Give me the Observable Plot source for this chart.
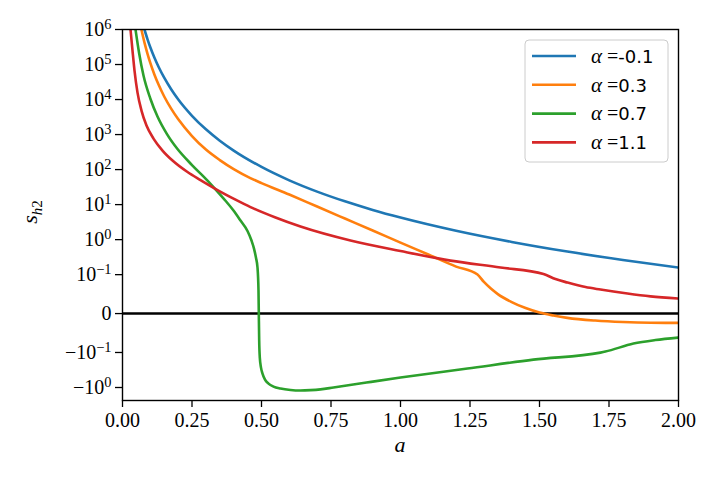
<!DOCTYPE html>
<html><head><meta charset="utf-8">
<script src="https://cdn.jsdelivr.net/npm/d3@7"></script>
<script src="https://cdn.jsdelivr.net/npm/@observablehq/plot@0.6"></script>
<style>
body{margin:0;background:#fff}
#chart{position:relative;width:720px;height:480px}
</style>
</head><body><div id="chart"></div>
<script>
// ---- data ----
const seriesNames  = ["-0.1", "0.3", "0.7", "1.1"];
const seriesColors = ["#1f77b4", "#ff7f0e", "#2ca02c", "#d62728"];

const aBlue = [0.079, 0.09, 0.10, 0.115, 0.13, 0.15, 0.175, 0.2, 0.25, 0.3, 0.35, 0.4, 0.5, 0.6, 0.7, 0.8, 0.9, 1.0, 1.2, 1.4, 1.6, 1.8, 2.0];
const sBlue = [1.0e6, 5.25e5, 3.11e5, 1.56e5, 8.5e4, 4.2e4, 1.97e4, 1.02e4, 3.44e3, 1.41e3, 668, 349, 119, 49.3, 23.5, 12.4, 7.06, 4.27, 1.79, 0.861, 0.457, 0.262, 0.159];

const aOrange = [0.068, 0.08, 0.09, 0.1, 0.115, 0.13, 0.15, 0.175, 0.2, 0.25, 0.3, 0.35, 0.4, 0.46, 0.5, 0.6, 0.7, 0.8, 0.9, 1.0, 1.1, 1.2, 1.277, 1.30, 1.325, 1.35, 1.40, 1.45, 1.50, 1.55, 1.60, 1.70, 1.80, 1.90, 2.0];
const sOrange = [1.0e6, 3.94e5, 2.02e5, 1.11e5, 5.1e4, 2.63e4, 1.22e4, 5.5e3, 2.77e3, 908, 373, 187, 103.5, 57.3, 41.2, 19.4, 8.8, 4.0, 1.82, 0.82, 0.375, 0.170, 0.1007, 0.0812, 0.0643, 0.0501, 0.0296, 0.0141, 0.0026, -0.0051, -0.0111, -0.0180, -0.0218, -0.0236, -0.0239];

const aGreen = [0.0468, 0.060, 0.0755, 0.100, 0.1259, 0.160, 0.1978, 0.250, 0.3058, 0.3417, 0.3705, 0.3993, 0.4245, 0.4496, 0.464, 0.473, 0.480, 0.4856, 0.4892, 0.4903, 0.4917, 0.4939, 0.4982, 0.5036, 0.5126, 0.5252, 0.5432, 0.5683, 0.6043, 0.6403, 0.6763, 0.7122, 0.759, 0.8777, 1.0, 1.241, 1.478, 1.719, 1.737, 1.838, 1.917, 2.0];
const sGreen = [1.0e6, 2.06e5, 4.84e4, 1.07e4, 3.27e3, 1.03e3, 386, 135, 48.6, 23.6, 12.9, 6.76, 3.50, 1.76, 0.942, 0.556, 0.308, 0.160, 0.0591, 0, -0.0694, -0.140, -0.270, -0.40, -0.594, -0.773, -0.942, -1.07, -1.18, -1.22, -1.19, -1.13, -1.0, -0.723, -0.521, -0.288, -0.160, -0.101, -0.0977, -0.0771, -0.0681, -0.0617];

const aRed = [0.0288, 0.036, 0.0432, 0.054, 0.0683, 0.0863, 0.1115, 0.1439, 0.1799, 0.2338, 0.2806, 0.3417, 0.4065, 0.4604, 0.5504, 0.6403, 0.8201, 1.0, 1.1799, 1.3597, 1.5144, 1.5576, 1.6007, 1.6655, 1.7194, 1.8165, 1.8993, 2.0];
const sRed = [1.0e6, 2.5e5, 6.7e4, 1.58e4, 4.85e3, 1.81e3, 769, 349, 181, 85.1, 50.2, 26.1, 13.9, 8.51, 4.27, 2.36, 0.942, 0.472, 0.252, 0.160, 0.104, 0.0887, 0.0797, 0.0681, 0.0617, 0.0514, 0.0442, 0.0385];

const xTickValues = [0, 0.25, 0.5, 0.75, 1.0, 1.25, 1.5, 1.75, 2.0];
const xTickLabels = ["0.00", "0.25", "0.50", "0.75", "1.00", "1.25", "1.50", "1.75", "2.00"];
const yTickValues = [1e6, 1e5, 1e4, 1e3, 1e2, 1e1, 1, 0.1, 0, -0.1, -1];
const yTickLabels = ["10^6", "10^5", "10^4", "10^3", "10^2", "10^1", "10^0", "10^\u22121", "0", "\u221210^\u22121", "\u221210^0"];
const yMin = -2.35, yMax = 1e6, xMin = 0, xMax = 2;

// ---- symmetric log transform (matplotlib style, linthresh 0.1) ----
const LINTHRESH = 0.1, LINSCALE = 1 / (1 - 1 / 10);
function symlog(v) {
  const a = Math.abs(v);
  return a <= LINTHRESH ? v / LINTHRESH * LINSCALE : Math.sign(v) * (LINSCALE + Math.log10(a / LINTHRESH));
}

const series = [[aBlue, sBlue], [aOrange, sOrange], [aGreen, sGreen], [aRed, sRed]];
const rows = series.flatMap(([as, ss], k) => as.map((a, i) => ({a, s: ss[i], alpha: seriesNames[k]})));

const xLabelMap = new Map(xTickValues.map((v, i) => [v, xTickLabels[i]]));
const yLabelMap = new Map(yTickValues.map((v, i) => [symlog(v), yTickLabels[i]]));
const SERIF = "'Liberation Serif', 'DejaVu Serif', serif";

const chart = Plot.plot({
  width: 720, height: 480,
  marginLeft: 122, marginRight: 42, marginTop: 29, marginBottom: 80,
  style: {background: "white", color: "black"},
  x: {domain: [xMin, xMax], label: null},
  y: {type: "linear", domain: [symlog(yMin), symlog(yMax)], label: null},
  color: {domain: seriesNames, range: seriesColors},
  marks: [
    Plot.ruleY([0], {y: d => symlog(d), stroke: "black", strokeWidth: 2.4}),
    Plot.line(rows, {x: "a", y: d => symlog(d.s), z: "alpha", stroke: "alpha",
      strokeWidth: 2.6, curve: "monotone-x", clip: true}),
    Plot.frame({stroke: "black", strokeWidth: 1.4}),
    Plot.axisX({ticks: xTickValues, tickFormat: d => xLabelMap.get(d), tickSize: 7, tickPadding: 5,
      strokeWidth: 1.3, fontSize: 20, fontFamily: SERIF, label: null}),
    Plot.axisY({ticks: yTickValues.map(symlog), tickFormat: d => yLabelMap.get(d), tickSize: 7, tickPadding: 4,
      strokeWidth: 1.3, fontSize: 20, fontFamily: SERIF, label: null})
  ]
});
document.getElementById("chart").appendChild(chart);

// ---- superscripts in y tick labels ----
const svg = d3.select(chart);
svg.selectAll("text").each(function() {
  const t = d3.select(this);
  const s = this.textContent;
  if (!s.includes("^")) return;
  const [base, exp] = s.split("^");
  t.text(null);
  t.append("tspan").text(base);
  t.append("tspan").attr("dy", "-0.5em").attr("font-size", "0.72em").text(exp);
});

// ---- axis titles ----
svg.append("text").attr("x", 400).attr("y", 452).attr("text-anchor", "middle")
  .attr("font-family", SERIF).attr("font-style", "italic").attr("font-size", 22).text("a");
const yl = svg.append("text").attr("transform", "translate(37,212) rotate(-90)")
  .attr("text-anchor", "middle").attr("font-family", SERIF).attr("font-size", 22);
yl.append("tspan").attr("font-style", "italic").text("s");
yl.append("tspan").attr("font-style", "italic").attr("font-size", 15).attr("dy", "0.3em").text("h");
yl.append("tspan").attr("font-size", 15).text("2");

// ---- legend ----
const lg = svg.append("g").attr("text-anchor", "start");
lg.append("rect").attr("x", 525).attr("y", 40).attr("width", 143).attr("height", 122).attr("rx", 4)
  .attr("fill", "white").attr("fill-opacity", 0.8).attr("stroke", "#cccccc").attr("stroke-width", 1);
seriesNames.forEach((name, i) => {
  const yy = 56 + i * 28.8;
  lg.append("line").attr("x1", 532).attr("x2", 576).attr("y1", yy).attr("y2", yy)
    .attr("stroke", seriesColors[i]).attr("stroke-width", 2.6);
  const t = lg.append("text").attr("x", 591).attr("y", yy).attr("dy", "0.36em")
    .attr("text-anchor", "start").attr("font-size", 19);
  t.append("tspan").attr("font-family", SERIF).attr("font-style", "italic").attr("font-size", 21).text("\u03b1");
  t.append("tspan").attr("font-family", SERIF).attr("font-size", 20).text(" =");
  t.append("tspan").attr("font-family", "'DejaVu Sans', sans-serif").attr("font-size", 18).text(name);
});
</script>
</body></html>
